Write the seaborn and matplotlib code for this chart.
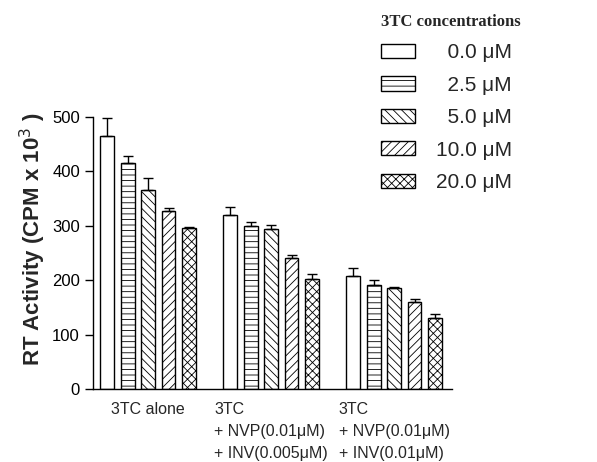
import numpy as np
import pandas as pd
import matplotlib
matplotlib.use("Agg")
import matplotlib.pyplot as plt
import seaborn as sns

groups = ["3TC alone",
          "3TC\n+ NVP(0.01\u03bcM)\n+ INV(0.005\u03bcM)",
          "3TC\n+ NVP(0.01\u03bcM)\n+ INV(0.01\u03bcM)"]
concs = ["0.0 \u03bcM", "2.5 \u03bcM", "5.0 \u03bcM", "10.0 \u03bcM", "20.0 \u03bcM"]
legend_labels = ["  0.0 \u03bcM", "  2.5 \u03bcM", "  5.0 \u03bcM", "10.0 \u03bcM", "20.0 \u03bcM"]

# RT activity per group, one list per 3TC concentration
act_0 = [464, 320, 208]
act_25 = [415, 299, 192]
act_5 = [365, 294, 186]
act_10 = [327, 241, 160]
act_20 = [295, 203, 131]

err_0 = [34, 15, 14]
err_25 = [13, 7, 9]
err_5 = [23, 8, 2]
err_10 = [6, 5, 5]
err_20 = [3, 8, 6]

hatches = ["", "---", "\\\\\\\\", "////", "xxxx"]

acts = [act_0, act_25, act_5, act_10, act_20]
errs = [err_0, err_25, err_5, err_10, err_20]
rows = []
for c, a, e in zip(concs, acts, errs):
    for g, v, s in zip(groups, a, e):
        rows.append({"group": g, "conc": c, "activity": v, "sem": s})
df = pd.DataFrame(rows)

sns.set_style("ticks")
plt.rcParams["font.family"] = ["Liberation Sans", "DejaVu Sans"]
plt.rcParams["hatch.linewidth"] = 0.6
plt.rcParams["hatch.color"] = "black"

fig = plt.figure(figsize=(5.97, 4.62), dpi=100)
ax = fig.add_axes([0.156, 0.158, 0.601, 0.589])

sns.barplot(data=df, x="group", y="activity", hue="conc", order=groups,
            hue_order=concs, palette=["white"] * 5, edgecolor="black",
            linewidth=1.0, width=0.83, gap=0.32, errorbar=None, ax=ax,
            legend=False)

# hatch each series and add upward-only error bars
for container, h, e in zip(ax.containers, hatches, errs):
    xs = []
    ys = []
    for bar in container:
        bar.set_hatch(h)
        xs.append(bar.get_x() + bar.get_width() / 2)
        ys.append(bar.get_height())
    ax.errorbar(xs, ys, yerr=[np.zeros(len(e)), e], fmt="none",
                ecolor="black", elinewidth=1.0, capsize=3.3, capthick=1.0,
                clip_on=False)

ax.set_xlim(-0.447, 2.47)
ax.set_ylim(0, 500)
ax.set_yticks([0, 100, 200, 300, 400, 500])
ax.set_xlabel("")
ax.set_ylabel("RT Activity (CPM x 10$^3$ )", fontsize=16, fontweight="bold")
ax.yaxis.set_label_coords(-0.126, 0.55)
ax.tick_params(axis="y", labelsize=12, length=6, width=1.0, colors="black")
ax.tick_params(axis="x", labelsize=11.5, length=0, pad=9)
for lbl in ax.get_xticklabels():
    lbl.set_multialignment("left")
    lbl.set_linespacing(1.6)
    lbl.set_verticalalignment("top")

for sp in ["left", "bottom"]:
    ax.spines[sp].set_linewidth(1.0)
    ax.spines[sp].set_color("black")
sns.despine(ax=ax)

handles = [c[0] for c in ax.containers if hasattr(c, "patches")][:5]
leg = fig.legend(handles, legend_labels, loc="upper left",
                 bbox_to_anchor=(0.638, 0.97), frameon=False,
                 fontsize=15, handlelength=1.63, handleheight=0.67,
                 handletextpad=1.0, labelspacing=0.645, borderpad=0,
                 borderaxespad=0, alignment="left",
                 title="3TC concentrations")
leg.get_title().set_fontfamily("Liberation Serif")
leg.get_title().set_fontweight("bold")
leg.get_title().set_fontsize(12)

fig.savefig("out.png", dpi=100)
